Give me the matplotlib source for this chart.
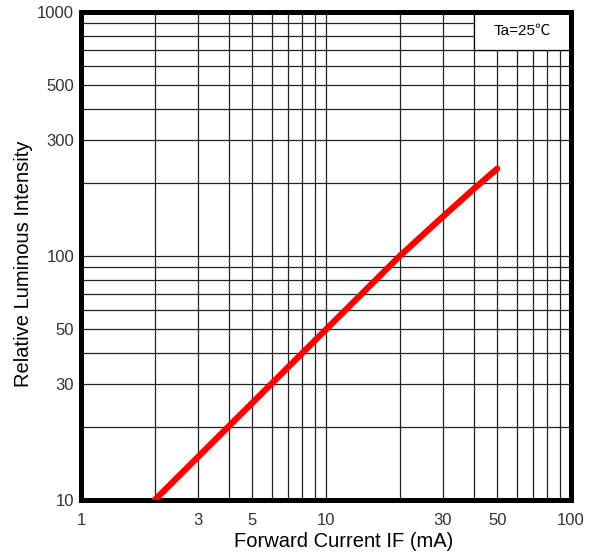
import numpy as np
import matplotlib.pyplot as plt
from matplotlib.patches import Rectangle

# DATA
current_ma = [2, 3, 5, 10, 20, 30, 40, 50]
rel_intensity = [10, 15, 25, 50, 100, 145, 188, 228]

x_major = [1, 3, 5, 10, 30, 50, 100]
x_minor = [2, 4, 6, 7, 8, 9, 20, 40, 60, 70, 80, 90]
y_major = [10, 30, 50, 100, 300, 500, 1000]
y_minor = [20, 40, 60, 70, 80, 90, 200, 400, 600, 700, 800, 900]

legend_text = 'Ta=25\u2103'

plt.rcParams['font.family'] = ['Liberation Sans', 'Noto Sans CJK SC', 'DejaVu Sans']

fig = plt.figure(figsize=(6, 5.53), dpi=100)
ax = fig.add_axes([0.135, 0.0958, 0.8167, 0.8825])

ax.set_xscale('log')
ax.set_yscale('log')
ax.set_xlim(1, 100)
ax.set_ylim(10, 1000)

ax.set_xticks(x_major)
ax.set_xticklabels([str(v) for v in x_major])
ax.set_xticks(x_minor, minor=True)
ax.set_xticklabels([], minor=True)
ax.set_yticks(y_major)
ax.set_yticklabels([str(v) for v in y_major])
ax.set_yticks(y_minor, minor=True)
ax.set_yticklabels([], minor=True)

ax.tick_params(which='both', length=0, labelsize=12, colors='#333333')
ax.tick_params(axis='x', pad=9)
ax.tick_params(axis='y', pad=5)

# grid on every decade step
ax.set_axisbelow(True)
ax.grid(which='both', color='#222222', linewidth=0.9)

for s in ax.spines.values():
    s.set_linewidth(3.6)
    s.set_color('black')

# CURVE
ax.plot(current_ma, rel_intensity, color='#ff0000', linewidth=4.5,
        solid_capstyle='round', solid_joinstyle='round', zorder=3)

# box for the temperature note
ax.add_patch(Rectangle((40, 700), 60, 300, facecolor='white', edgecolor='black',
                       linewidth=0.9, zorder=2))
ax.text(np.sqrt(40 * 100), np.sqrt(700 * 1000), legend_text, ha='center', va='center',
        fontsize=11, zorder=4)

ax.set_xlabel('Forward Current IF (mA)', fontsize=14.5, labelpad=3)
ax.set_ylabel('Relative Luminous Intensity', fontsize=14.5, labelpad=3)
ax.xaxis.label.set_x(0.535)
ax.yaxis.label.set_y(0.484)

plt.savefig('out.png', dpi=100)
